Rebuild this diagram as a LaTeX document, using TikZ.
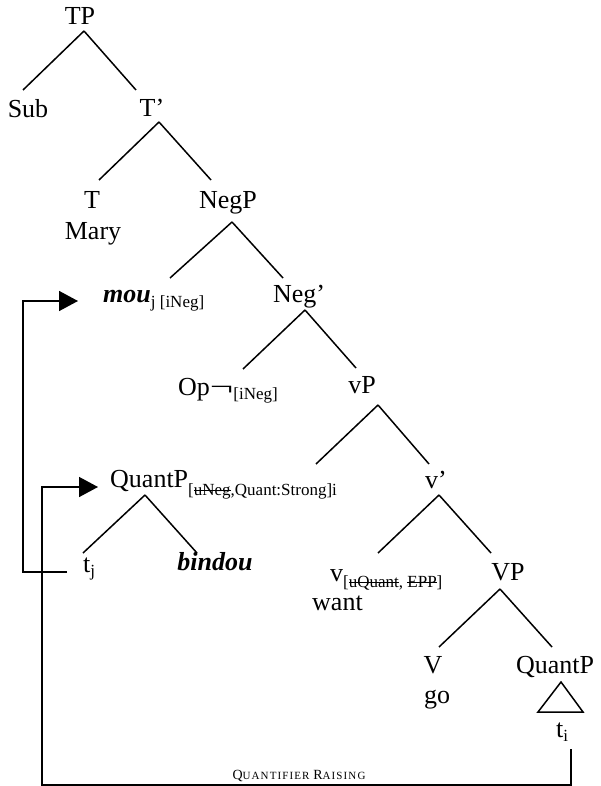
\documentclass[tikz,border=0pt]{standalone}
\usepackage{fontspec}
\setmainfont{Liberation Serif}
\newfontfamily\qrfont[LetterSpace=10]{Liberation Serif}
\usetikzlibrary{arrows.meta}
\newcommand\sz[1]{\fontsize{#1}{#1}\selectfont}
% lowered feature bundle in smaller type
\newcommand\feat[2][6pt]{\raisebox{-#1}{\sz{17}#2}}
% checked (struck-out) feature
\newcommand\strike[1]{{\setbox0\hbox{#1}\rlap{\rule[0.26em]{\wd0}{0.6pt}}\box0}}

\begin{document}
\begin{tikzpicture}[x=1pt,y=-1pt,
  lab/.style={inner sep=0pt, font=\sz{26}},
  branch/.style={line width=1.5pt},
  move/.style={line width=1.5pt, -{Triangle[length=19pt,width=20pt]}}]
\useasboundingbox (0,0) rectangle (600,786);

% ---- labels
\node[lab,anchor=base] (TP) at (80,25) {TP};
\node[lab,anchor=base] (Sub) at (28,118) {Sub};
\node[lab,anchor=base] (Tbar) at (152,117) {T’};
\node[lab,anchor=base] (T) at (92,208) {T};
\node[lab,anchor=base] (Mary) at (93,240) {Mary};
\node[lab,anchor=base] (NegP) at (228,209) {NegP};
\node[lab,anchor=base west] (mou) at (103,302) {\textbf{\textit{mou}}\feat[5pt]{j [iNeg]}};
\node[lab,anchor=base] (Negbar) at (299,302) {Neg’};
\node[lab,anchor=base west] (Op) at (178,395) {Op\scalebox{1.6}[1]{¬}\feat[4pt]{[iNeg]}};
\node[lab,anchor=base] (vP) at (362,393) {vP};
\node[lab,anchor=base west] (QuantPu) at (110,487) {QuantP\feat[8pt]{[\strike{uNeg},Quant:Strong]i}};
\node[lab,anchor=base] (vbar) at (436,488) {v’};
\node[lab,anchor=base west] (tj) at (83,572) {t\feat[4pt]{j}};
\node[lab,anchor=base] (bindou) at (215,570) {\textbf{\textit{bindou}}};
\node[lab,anchor=base west] (vhead) at (330,581) {v\feat{[\strike{uQuant}, \strike{EPP}]}};
\node[lab,anchor=base west] (want) at (312,610) {want};
\node[lab,anchor=base] (VP) at (508,580) {VP};
\node[lab,anchor=base] (V) at (433,673) {V};
\node[lab,anchor=base] (go) at (437,703) {go};
\node[lab,anchor=base] (QuantPl) at (555,673) {QuantP};
\node[lab,anchor=base] (ti) at (562,737) {t\feat[4pt]{i}};
\node[anchor=base,inner sep=0pt] (qr) at (299,779)
  {\qrfont\sz{14}Q\sz{11}UANTIFIER \sz{14}R\sz{11}AISING};

% ---- branches
\draw[branch] ([xshift=4pt,yshift=-6pt]TP.base) -- ([xshift=-5pt,yshift=28pt]Sub.base);
\draw[branch] ([xshift=4pt,yshift=-6pt]TP.base) -- ([xshift=-16pt,yshift=27pt]Tbar.base);
\draw[branch] ([xshift=7pt,yshift=-5pt]Tbar.base) -- ([xshift=7pt,yshift=28pt]T.base);
\draw[branch] ([xshift=7pt,yshift=-5pt]Tbar.base) -- ([xshift=-17pt,yshift=29pt]NegP.base);
\draw[branch] ([xshift=4pt,yshift=-13pt]NegP.base) -- ([xshift=67pt,yshift=24pt]mou.base west);
\draw[branch] ([xshift=4pt,yshift=-13pt]NegP.base) -- ([xshift=-16pt,yshift=24pt]Negbar.base);
\draw[branch] ([xshift=6pt,yshift=-8pt]Negbar.base) -- ([xshift=65pt,yshift=26pt]Op.base west);
\draw[branch] ([xshift=6pt,yshift=-8pt]Negbar.base) -- ([xshift=-6pt,yshift=25pt]vP.base);
\draw[branch] ([xshift=16pt,yshift=-12pt]vP.base) -- ([xshift=206pt,yshift=23pt]QuantPu.base west);
\draw[branch] ([xshift=16pt,yshift=-12pt]vP.base) -- ([xshift=-7pt,yshift=24pt]vbar.base);
\draw[branch] ([xshift=35pt,yshift=-8pt]QuantPu.base west) -- ([yshift=19pt]tj.base west);
\draw[branch] ([xshift=35pt,yshift=-8pt]QuantPu.base west) -- ([xshift=-18pt,yshift=17pt]bindou.base);
\draw[branch] ([xshift=3pt,yshift=-7pt]vbar.base) -- ([xshift=48pt,yshift=28pt]vhead.base west);
\draw[branch] ([xshift=3pt,yshift=-7pt]vbar.base) -- ([xshift=-17pt,yshift=27pt]VP.base);
\draw[branch] ([xshift=-8pt,yshift=-9pt]VP.base) -- ([xshift=6pt,yshift=26pt]V.base);
\draw[branch] ([xshift=-8pt,yshift=-9pt]VP.base) -- ([xshift=-3pt,yshift=26pt]QuantPl.base);
\draw[branch] ([xshift=6pt,yshift=-9pt]QuantPl.base) -- ([xshift=-17pt,yshift=-39pt]QuantPl.base)
  -- ([xshift=28pt,yshift=-39pt]QuantPl.base) -- cycle;

% ---- movement arrows
\coordinate (qrcorner) at (42,785);
\draw[move] ([xshift=-16pt]tj.base west) -- ++(-44,0) |- ([xshift=-25pt,yshift=1pt]mou.base west);
\draw[move] ([xshift=9pt,yshift=-12pt]ti.base) |- (qrcorner) |- ([xshift=-12pt]QuantPu.base west);
\end{tikzpicture}
\end{document}
